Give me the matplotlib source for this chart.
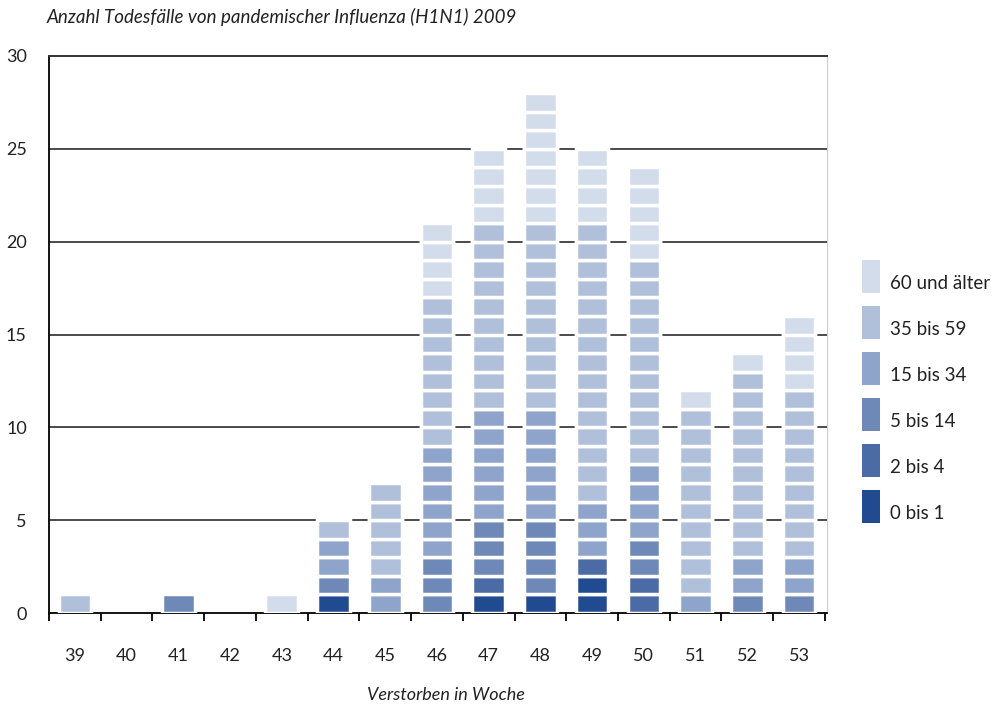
import matplotlib
matplotlib.use("Agg")
import matplotlib.pyplot as plt
from matplotlib.patches import Rectangle
import numpy as np

plt.rcParams['font.family'] = ['Lato', 'DejaVu Sans']

# weeks (Kalenderwoche) 39 .. 53
weeks = ['39', '40', '41', '42', '43', '44', '45', '46', '47', '48', '49', '50', '51', '52', '53']
age_labels = ['0 bis 1', '2 bis 4', '5 bis 14', '15 bis 34', '35 bis 59', '60 und älter']
age_0_1 = [0, 0, 0, 0, 0, 1, 0, 0, 1, 1, 2, 0, 0, 0, 0]
age_2_4 = [0, 0, 0, 0, 0, 0, 0, 0, 1, 0, 1, 2, 0, 0, 0]
age_5_14 = [0, 0, 1, 0, 0, 1, 0, 3, 3, 4, 0, 2, 0, 1, 1]
age_15_34 = [0, 0, 0, 0, 0, 2, 2, 6, 6, 6, 3, 4, 1, 2, 2]
age_35_59 = [1, 0, 0, 0, 0, 1, 5, 8, 10, 10, 15, 11, 10, 10, 9]
age_60 = [0, 0, 0, 0, 1, 0, 0, 4, 4, 7, 4, 5, 1, 1, 4]
series = [age_0_1, age_2_4, age_5_14, age_15_34, age_35_59, age_60]
colors = ['#214b91', '#4a6ba5', '#6e89b8', '#8fa4ca', '#b0c0da', '#d3dcea']

fig = plt.figure(figsize=(9.94, 7.07), dpi=100)
ax = fig.add_axes([49 / 994, 1 - 613 / 707, (827 - 49) / 994, (613 - 56) / 707])

x = np.arange(len(weeks))
base = np.zeros(len(weeks))
for vals, col in zip(series, colors):
    xs, bottoms = [], []
    for i, n in enumerate(vals):
        for k in range(n):
            xs.append(x[i])
            bottoms.append(base[i] + k)
    if xs:
        ax.bar(xs, 1, bottom=bottoms, width=0.63, color=col,
               edgecolor='white', linewidth=2.5, zorder=3)
    base += np.array(vals)

ax.set_xlim(-0.5, 14.54)
ax.set_ylim(0, 30)

# horizontal grid lines
for yv in [5, 10, 15, 20, 25]:
    ax.axhline(yv, color='#1a1a1a', lw=1.1, zorder=1)

ax.spines['top'].set_color('#333333')
ax.spines['top'].set_linewidth(1.4)
ax.spines['right'].set_color('#cccccc')
ax.spines['right'].set_linewidth(0.8)
ax.spines['left'].set_color('black')
ax.spines['left'].set_linewidth(1.3)
ax.spines['bottom'].set_color('black')
ax.spines['bottom'].set_linewidth(1.3)

ax.set_yticks([0, 5, 10, 15, 20, 25, 30])
ax.set_yticklabels(['0', '5', '10', '15', '20', '25', '30'])
ax.tick_params(axis='y', length=0, pad=16, labelsize=13, labelcolor='#222222')

ax.set_xticks(x)
ax.set_xticklabels(weeks)
ax.tick_params(axis='x', which='major', length=0, pad=25, labelsize=13, labelcolor='#222222')
ax.set_xticks(np.arange(-0.5, 15, 1), minor=True)
ax.tick_params(axis='x', which='minor', length=6, width=1.3, color='black', direction='out')

fig.text(47 / 994, 1 - 17 / 707, 'Anzahl Todesfälle von pandemischer Influenza (H1N1) 2009',
         fontsize=13.5, style='italic', va='center', ha='left', color='#222222')
fig.text(446 / 994, 1 - 695 / 707, 'Verstorben in Woche',
         fontsize=13, style='italic', va='center', ha='center', color='#222222')

# legend, top to bottom
for j, (lab, col) in enumerate(zip(age_labels[::-1], colors[::-1])):
    top = 260 + 46 * j
    fig.add_artist(Rectangle((862 / 994, 1 - (top + 33) / 707), 18 / 994, 33 / 707,
                             transform=fig.transFigure, facecolor=col, edgecolor='none'))
    fig.text(890 / 994, 1 - (top + 29) / 707, lab, fontsize=13.5, va='baseline',
             ha='left', color='#222222')

fig.savefig('out.png', dpi=100)
